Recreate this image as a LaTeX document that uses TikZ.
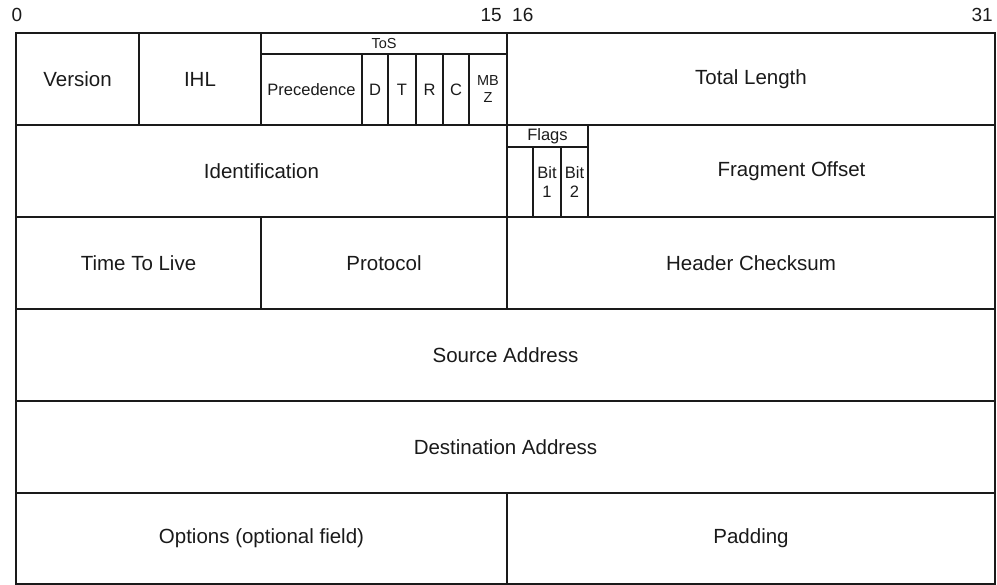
\documentclass[tikz,border=0pt]{standalone}
\usepackage{fontspec}
\setmainfont{Liberation Sans}
\usepackage{tikz}
\definecolor{HdrInk}{HTML}{1A1A1A}

\begin{document}
\begin{tikzpicture}[
  x=1pt,y=-1pt,
  field/.style={draw=HdrInk,line width=1.5pt,inner sep=0pt,outer sep=0pt,align=center,
    text=HdrInk,font=\fontsize{20.5}{22}\selectfont},
  sub/.style={field,font=\fontsize{16.5}{19}\selectfont},
  tiny/.style={field,font=\fontsize{14.5}{17}\selectfont},
  bitno/.style={inner sep=0pt,text=HdrInk,font=\fontsize{19}{20}\selectfont},
]
\useasboundingbox (0,0) rectangle (997,585);
% bit numbers
\node[bitno] (b0) at (17,15) {0};
\node[bitno,anchor=east] (b15) at (502,15) {15};
\node[bitno,anchor=west] (b16) at (512,15) {16};
\node[bitno,anchor=east] (b31) at (993,15) {31};
% word 1
\node[field,minimum width=123,minimum height=92] (version) at (77.5,79) {Version};
\node[field,minimum width=122,minimum height=92] (ihl) at (200,79) {IHL};
\node[tiny,minimum width=246,minimum height=21] (tos) at (384,43.5) {ToS};
\node[sub,minimum width=101,minimum height=71] (prec) at (311.5,89.5) {Precedence};
\node[sub,minimum width=26,minimum height=71] (tosd) at (375,89.5) {D};
\node[sub,minimum width=28,minimum height=71] (tost) at (402,89.5) {T};
\node[sub,minimum width=27,minimum height=71] (tosr) at (429.5,89.5) {R};
\node[sub,minimum width=26,minimum height=71] (tosc) at (456,89.5) {C};
\node[tiny,minimum width=38,minimum height=71] (mbz) at (488,89.5) {MB\\Z};
\node[field,minimum width=488,minimum height=92] (total) at (751,79) {Total Length};
% word 2
\node[field,minimum width=491,minimum height=92] (ident) at (261.5,171) {Identification};
\node[sub,minimum width=81,minimum height=22] (flags) at (547.5,136) {Flags};
\node[sub,minimum width=26,minimum height=70] (flag0) at (520,182) {};
\node[sub,minimum width=28,minimum height=70] (flag1) at (547,182) {Bit\\1};
\node[sub,minimum width=27,minimum height=70] (flag2) at (574.5,182) {Bit\\2};
\node[field,minimum width=407,minimum height=92] (frag) at (791.5,171) {Fragment Offset};
% word 3
\node[field,minimum width=245,minimum height=92] (ttl) at (138.5,263) {Time To Live};
\node[field,minimum width=246,minimum height=92] (proto) at (384,263) {Protocol};
\node[field,minimum width=488,minimum height=92] (chksum) at (751,263) {Header Checksum};
% words 4 and 5
\node[field,minimum width=979,minimum height=92] (src) at (505.5,355) {Source Address};
\node[field,minimum width=979,minimum height=92] (dst) at (505.5,447) {Destination Address};
% word 6
\node[field,minimum width=491,minimum height=91] (opts) at (261.5,538.5) {Options (optional field)};
\node[field,minimum width=488,minimum height=91] (pad) at (751,538.5) {Padding};
\end{tikzpicture}
\end{document}
